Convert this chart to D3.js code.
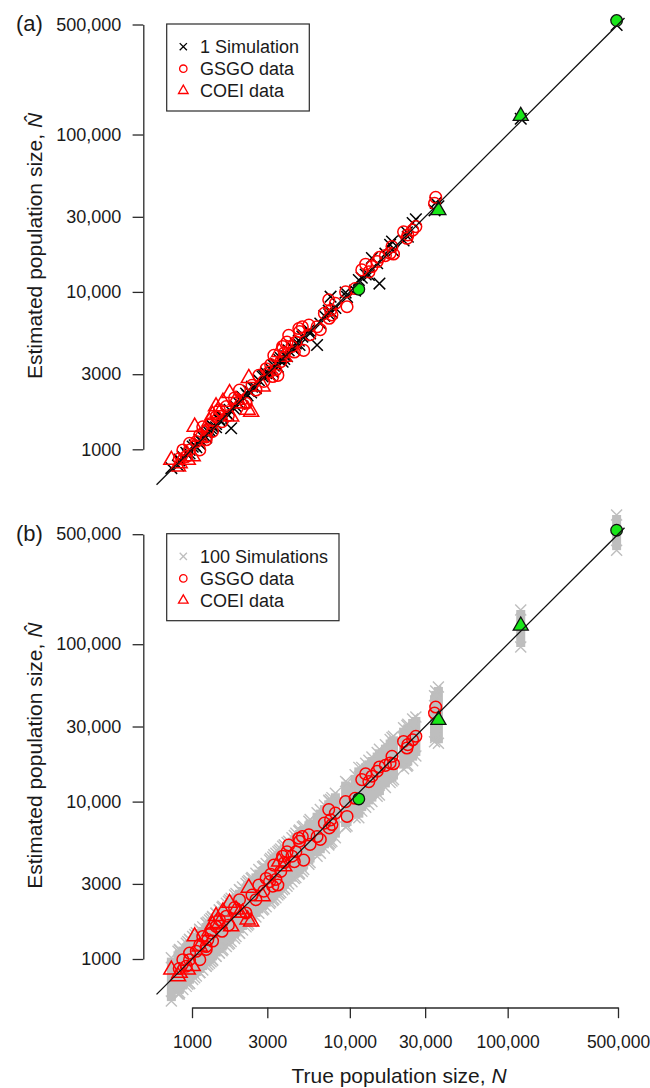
<!DOCTYPE html>
<html>
<head>
<meta charset="utf-8">
<script src="https://cdnjs.cloudflare.com/ajax/libs/d3/7.8.5/d3.min.js"></script>
<style>
  body { margin: 0; background: #fff; }
  svg { display: block; font-family: "Liberation Sans", Arial, sans-serif; }
</style>
</head>
<body>
<svg id="chart" width="650" height="1088"></svg>
<script>
// axis ticks (same on both axes)
let tickValues = [1000, 3000, 10000, 30000, 100000, 500000];
let tickLabels = ['1000', '3000', '10,000', '30,000', '100,000', '500,000'];
let lineLim = [596, 550000];

// GSGO data (circles): true N, estimate, 1 simulated estimate, range of 100 simulations
let gsgoN = [35000, 34400, 26200, 25000, 23300, 21900, 23000, 18500, 18000, 15400,
  14900, 13800, 12600, 11900, 13200, 18900, 9400, 9600, 8100, 7550,
  7700, 7400, 7350, 6500, 6200, 5500, 5000, 4750, 4800, 4100,
  4000, 4550, 5100, 4450, 3750, 3850, 4300, 3300, 3650, 3150,
  3500, 3400, 3250, 2650, 3100, 2950, 1170, 1260, 1120, 965,
  875, 920, 1230, 1065, 1120, 1230, 1320, 1420, 1490, 1650,
  965, 2000, 2540, 2200, 1860, 1350, 1550, 1700, 2400, 2850,
  5600, 6900, 10800, 16800, 830];
let gsgoNhat = [39900, 36500, 26000, 24700, 23000, 24100, 21900, 19400, 17600, 16600,
  15600, 14500, 15000, 13800, 13400, 17400, 10000, 8050, 8450, 7650,
  7150, 6800, 8900, 5750, 6000, 6150, 6000, 5850, 5600, 5300,
  4800, 4800, 4250, 4150, 4500, 4100, 4500, 3950, 3600, 3450,
  2950, 3200, 2900, 2950, 3100, 3250, 1390, 1330, 1230, 1090,
  990, 900, 1150, 1120, 990, 1200, 1460, 1610, 1780, 1870,
  990, 2380, 2380, 1960, 2120, 1300, 1500, 1640, 2550, 2700,
  5350, 7300, 10500, 17000, 870];
let gsgoSim1 = [36800, 33000, 28900, 27400, 22400, 21200, 23900, 20900, 19900, 11300,
  15200, 16400, 12900, 12300, 12800, 18200, 9900, 9300, 7900, 9330,
  7400, 7200, 7600, 6300, 4600, 5700, 5200, 4900, 4600, 4250,
  3900, 4700, 5300, 4300, 3600, 3950, 4450, 3400, 3800, 3250,
  3350, 3500, 3100, 2750, 3000, 3050, 1200, 1300, 1080, 990,
  900, 950, 1270, 1030, 1150, 1190, 1360, 1380, 1530, 1700,
  940, 2080, 2450, 2260, 1800, 1400, 1600, 1650, 2500, 2950,
  5450, 7050, 10200, 17500, 850];
let gsgoSimLo = [25500, 24000, 19500, 18200, 17000, 16200, 16800, 13500, 13200, 11000,
  10800, 10000, 9200, 8700, 9600, 13800, 6900, 7000, 5900, 5500,
  5600, 5400, 5300, 4700, 4500, 4000, 3600, 3450, 3500, 3000,
  2900, 3300, 3700, 3250, 2750, 2800, 3100, 2400, 2650, 2300,
  2550, 2450, 2350, 1950, 2250, 2150, 850, 920, 820, 700,
  640, 670, 900, 780, 820, 900, 960, 1040, 1090, 1200,
  700, 1460, 1850, 1600, 1350, 980, 1130, 1240, 1750, 2080,
  4100, 5050, 7900, 12300, 600];
let gsgoSimHi = [50500, 47000, 34500, 33500, 31000, 29500, 30500, 25500, 24800, 21500,
  20500, 19200, 17500, 16500, 18300, 26000, 13400, 13200, 11300, 10300,
  10600, 10100, 10200, 8900, 8500, 7500, 6900, 6500, 6600, 5600,
  5500, 6300, 7000, 6100, 5200, 5300, 5900, 4600, 5000, 4350,
  4800, 4700, 4450, 3700, 4250, 4050, 1600, 1720, 1540, 1330,
  1200, 1260, 1690, 1470, 1540, 1690, 1810, 1950, 2050, 2260,
  1330, 2750, 3500, 3020, 2550, 1850, 2130, 2330, 3300, 3900,
  7700, 9500, 14800, 23000, 1140];

// COEI data (triangles)
let coeiN = [2290, 2800, 2250, 1730, 1490, 1350, 2000, 1290, 1010, 835, 940, 815,
  2370, 2090, 1900, 1420, 740, 1770, 3570, 3840, 1570, 1040, 1120];
let coeiNhat = [2830, 2500, 1780, 2270, 1690, 1650, 1960, 1500, 900, 815, 855, 775,
  1730, 1960, 2060, 1870, 855, 1610, 4150, 3870, 2000, 1390, 1200];
let coeiSim1 = [2350, 2900, 2200, 1780, 1550, 1400, 1950, 1320, 1040, 860, 920, 790,
  2300, 2150, 1870, 1450, 760, 1360, 3700, 3750, 1620, 1060, 1150];
let coeiSimLo = [1670, 2050, 1640, 1260, 1090, 990, 1460, 940, 740, 610, 690, 600,
  1730, 1530, 1390, 1040, 540, 1290, 2600, 2800, 1150, 760, 820];
let coeiSimHi = [3150, 3850, 3100, 2380, 2050, 1860, 2750, 1770, 1390, 1150, 1290, 1120,
  3250, 2870, 2610, 1950, 1020, 2430, 4900, 5300, 2160, 1430, 1540];

// highlighted (green) populations
let hlShape = ['circle', 'triangle', 'triangle', 'circle'];
let hlN = [11400, 36400, 121000, 490000];
let hlNhat = [10400, 33000, 131000, 530000];
let hlSim1 = [11900, 35000, 126000, 497000];
let hlSimLo = [7900, 23500, 96000, 396000];
let hlSimHi = [16500, 53500, 165000, 662000];

let points = [];
gsgoN.forEach(function(d, i) {
  points.push({shape: 'circle', n: d, nhat: gsgoNhat[i], sim1: gsgoSim1[i], lo: gsgoSimLo[i], hi: gsgoSimHi[i]});
});
coeiN.forEach(function(d, i) {
  points.push({shape: 'triangle', n: d, nhat: coeiNhat[i], sim1: coeiSim1[i], lo: coeiSimLo[i], hi: coeiSimHi[i]});
});
let highlights = hlN.map(function(d, i) {
  return {shape: hlShape[i], n: d, nhat: hlNhat[i], sim1: hlSim1[i], lo: hlSimLo[i], hi: hlSimHi[i]};
});

let svg = d3.select('#chart');
let x = d3.scaleLog().domain([1000, 500000]).range([192, 618]);

function crossPath(cx, cy, h) {
  return 'M' + (cx - h) + ',' + (cy - h) + 'L' + (cx + h) + ',' + (cy + h) +
    'M' + (cx - h) + ',' + (cy + h) + 'L' + (cx + h) + ',' + (cy - h);
}
function triPath(cx, cy, s) {
  let t = s / Math.sqrt(3);
  return 'M' + cx + ',' + (cy - t) + 'L' + (cx + s / 2) + ',' + (cy + t / 2) +
    'L' + (cx - s / 2) + ',' + (cy + t / 2) + 'Z';
}
function shapePath(shape, cx, cy, r) {
  if (shape === 'triangle') return triPath(cx, cy, r * 2.6);
  return 'M' + (cx - r) + ',' + cy + 'a' + r + ',' + r + ' 0 1,0 ' + (2 * r) + ',0' +
    'a' + r + ',' + r + ' 0 1,0 ' + (-2 * r) + ',0';
}

class Panel {
  constructor(top, letter, simLabel, simColor, many) {
    this._top = top;
    this._letter = letter;
    this._simLabel = simLabel;
    this._simColor = simColor;
    this._many = many;
    this._y = d3.scaleLog().domain([1000, 500000]).range([top + 449.3, top + 24.5]);
    this._g = svg.append('g');
  }
  axes() {
    let y = this._y, top = this._top;
    let ax = this._g.append('g').attr('transform', 'translate(143.3,0)')
      .call(d3.axisLeft(y).tickValues(tickValues).tickFormat(function(d, i) { return tickLabels[i]; })
        .tickSize(10.7).tickSizeOuter(0).tickPadding(11.3));
    ax.attr('font-size', null).attr('font-family', null);
    ax.selectAll('text').style('font-size', '18px').attr('fill', '#1a1a1a');
    ax.selectAll('path, line').attr('stroke', '#2a2a2a').attr('stroke-width', 1.3);

    let t = this._g.append('text')
      .attr('transform', 'translate(42,' + (top + 246) + ') rotate(-90)')
      .attr('text-anchor', 'middle').style('font-size', '21px').attr('fill', '#1a1a1a');
    t.append('tspan').text('Estimated population size, ');
    t.append('tspan').style('font-style', 'italic').text('N\u0302');

    this._g.append('text').attr('x', 16).attr('y', top + 31)
      .style('font-size', '22px').attr('fill', '#1a1a1a').text('(' + this._letter + ')');
  }
  sims() {
    let y = this._y, g = this._g.append('g'), col = this._simColor;
    let all = points.concat(highlights);
    if (this._many) {
      g.selectAll('rect').data(all).enter().append('rect')
        .attr('x', function(d) { return x(d.n) - 4.5; })
        .attr('y', function(d) { return y(d.hi); })
        .attr('width', 9)
        .attr('height', function(d) { return y(d.lo) - y(d.hi); })
        .attr('fill', col);
      g.selectAll('path.hi').data(all).enter().append('path').attr('class', 'hi')
        .attr('d', function(d) { return crossPath(x(d.n), y(d.hi), 5.5); })
        .attr('stroke', col).attr('stroke-width', 1.4).attr('fill', 'none');
      g.selectAll('path.lo').data(all).enter().append('path').attr('class', 'lo')
        .attr('d', function(d) { return crossPath(x(d.n), y(d.lo), 5.5); })
        .attr('stroke', col).attr('stroke-width', 1.4).attr('fill', 'none');
    } else {
      g.selectAll('path').data(all).enter().append('path')
        .attr('d', function(d) { return crossPath(x(d.n), y(d.sim1), 5.8); })
        .attr('stroke', col).attr('stroke-width', 1.5).attr('fill', 'none');
    }
  }
  data() {
    let y = this._y;
    this._g.append('g').selectAll('path').data(points).enter().append('path')
      .attr('d', function(d) { return shapePath(d.shape, x(d.n), y(d.nhat), 5.8); })
      .attr('stroke', '#ff0000').attr('stroke-width', 1.5).attr('fill', 'none');
    this._g.append('g').selectAll('path').data(highlights).enter().append('path')
      .attr('d', function(d) { return shapePath(d.shape, x(d.n), y(d.nhat), 5.8); })
      .attr('stroke', '#111').attr('stroke-width', 1.3).attr('fill', '#19e619');
    this._g.append('line')
      .attr('x1', x(lineLim[0])).attr('y1', y(lineLim[0]))
      .attr('x2', x(lineLim[1])).attr('y2', y(lineLim[1]))
      .attr('stroke', '#111').attr('stroke-width', 1.3);
  }
  legend(width) {
    let top = this._top, g = this._g.append('g');
    g.append('rect').attr('x', 166.7).attr('y', top + 24).attr('width', width).attr('height', 87)
      .attr('fill', '#fff').attr('stroke', '#2a2a2a').attr('stroke-width', 1.2);
    let rows = [
      {label: this._simLabel, mark: 'cross', color: this._simColor},
      {label: 'GSGO data', mark: 'circle', color: '#ff0000'},
      {label: 'COEI data', mark: 'triangle', color: '#ff0000'}
    ];
    rows.forEach(function(r, i) {
      let cy = top + 46.7 + i * 22;
      let d = r.mark === 'cross' ? crossPath(183.3, cy, 3.6) : shapePath(r.mark, 183.3, cy, 3.7);
      g.append('path').attr('d', d).attr('stroke', r.color).attr('stroke-width', 1.3).attr('fill', 'none');
      g.append('text').attr('x', 200).attr('y', cy + 6.3).style('font-size', '18px')
        .attr('fill', '#1a1a1a').text(r.label);
    });
  }
}

let panelA = new Panel(0, 'a', '1 Simulation', '#000000', false);
panelA.axes();
panelA.sims();
panelA.data();
panelA.legend(142.6);

let panelB = new Panel(509.7, 'b', '100 Simulations', '#bebebe', true);
panelB.axes();
panelB.sims();
panelB.data();
panelB.legend(172.3);

// bottom x axis (panel b only)
let xa = svg.append('g').attr('transform', 'translate(0,1007.5)')
  .call(d3.axisBottom(x).tickValues(tickValues).tickFormat(function(d, i) { return tickLabels[i]; })
    .tickSize(10.7).tickSizeOuter(0).tickPadding(17.3));
xa.attr('font-size', null).attr('font-family', null);
xa.selectAll('text').style('font-size', '17.5px').attr('fill', '#1a1a1a');
xa.selectAll('path, line').attr('stroke', '#2a2a2a').attr('stroke-width', 1.3);

let xt = svg.append('text').attr('x', 399).attr('y', 1083).attr('text-anchor', 'middle')
  .style('font-size', '21px').attr('fill', '#1a1a1a');
xt.append('tspan').text('True population size, ');
xt.append('tspan').style('font-style', 'italic').text('N');
</script>
</body>
</html>
